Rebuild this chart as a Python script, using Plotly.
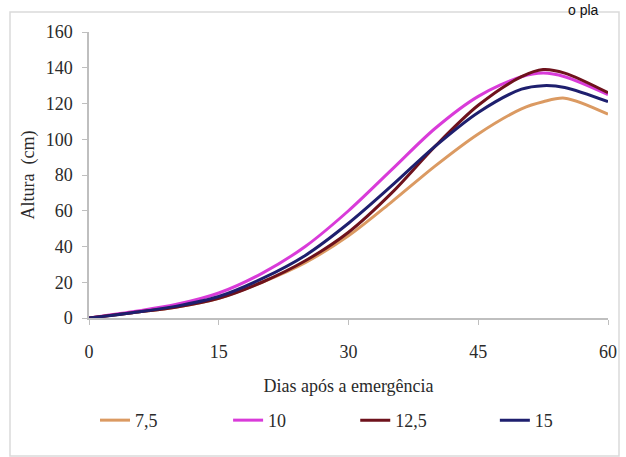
import plotly.graph_objects as go

# Days after emergence
dias = [0, 5, 10, 15, 20, 25, 30, 35, 40, 45, 50, 52.5, 55, 60]

# Plant height (cm) for each treatment
altura_7_5 = [0, 3, 6, 11, 20, 31, 46, 65, 85, 103, 117, 121, 123, 114]
altura_10 = [0, 3.5, 7.5, 14, 25, 40, 60, 83, 106, 124, 135, 137, 135, 125]
altura_12_5 = [0, 3, 6, 11, 20, 32, 48, 70, 96, 119, 135, 139, 137, 126]
altura_15 = [0, 3, 6.5, 12, 22, 35, 53, 74, 96, 115, 128, 130, 129, 121]

series = [
    ("7,5", altura_7_5, "#DB9A62"),
    ("10", altura_10, "#D93BD9"),
    ("12,5", altura_12_5, "#6E121C"),
    ("15", altura_15, "#1E1F6E"),
]

x_ticks = [0, 15, 30, 45, 60]
y_ticks = [0, 20, 40, 60, 80, 100, 120, 140, 160]

serif = "Liberation Serif, Times New Roman, serif"
text_color = "#2A2A2A"

# one single-entry legend per series, laid out in a row below the x axis
legend_ids = ["legend", "legend2", "legend3", "legend4"]
legend_x = [0.0116, 0.268, 0.513, 0.782]

fig = go.Figure()
for (name, vals, color), lid in zip(series, legend_ids):
    fig.add_trace(go.Scatter(
        x=dias, y=vals, name=name, mode="lines", legend=lid,
        line=dict(color=color, width=3, shape="spline", smoothing=0.9),
    ))

# outer frame around the chart
fig.add_shape(type="rect", xref="paper", yref="paper",
              x0=-0.1522, x1=1.0212, y0=-0.4825, y1=1.07,
              line=dict(color="#DADADA", width=1.5), layer="below")

fig.add_annotation(text="o pla", xref="paper", yref="paper",
                   x=0.919, y=1.1119, xanchor="left", yanchor="top",
                   showarrow=False,
                   font=dict(family="Liberation Sans, Arial, sans-serif",
                             size=14, color="#111111"))

legend_style = dict(orientation="h", xanchor="left", y=-0.2935, yanchor="top",
                    itemwidth=30,
                    font=dict(family=serif, size=18, color=text_color),
                    bgcolor="rgba(0,0,0,0)")

fig.update_layout(
    width=626, height=457,
    margin=dict(l=89, r=18, t=32, b=139, autoexpand=False),
    paper_bgcolor="white", plot_bgcolor="white",
    font=dict(family=serif, size=18, color=text_color),
    showlegend=True,
    legend=dict(x=legend_x[0], **legend_style),
    legend2=dict(x=legend_x[1], **legend_style),
    legend3=dict(x=legend_x[2], **legend_style),
    legend4=dict(x=legend_x[3], **legend_style),
    xaxis=dict(
        range=[0, 60], tickvals=x_ticks, showgrid=False, zeroline=False,
        showline=True, linecolor="#BFBFBF", linewidth=1.5,
        ticks="outside", ticklen=5, tickcolor="#BFBFBF",
        ticklabelstandoff=12, automargin=False,
        title=dict(text="Dias após a emergência", standoff=18,
                   font=dict(family=serif, size=18, color=text_color)),
    ),
    yaxis=dict(
        range=[0, 160], tickvals=y_ticks, showgrid=False, zeroline=False,
        showline=True, linecolor="#BFBFBF", linewidth=1.5,
        ticks="outside", ticklen=5, tickcolor="#BFBFBF",
        ticklabelstandoff=6, automargin=False,
        title=dict(text="Altura  (cm)", standoff=6,
                   font=dict(family=serif, size=18, color=text_color)),
    ),
)

fig.write_html("out.html")
